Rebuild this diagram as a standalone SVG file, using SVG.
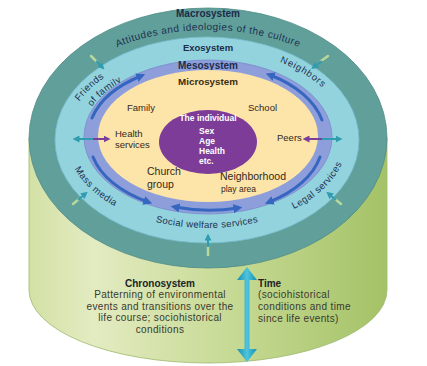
<svg xmlns="http://www.w3.org/2000/svg" width="427" height="366" viewBox="0 0 427 366">
<style>
text{font-family:"Liberation Sans",Arial,sans-serif}
.title{font-weight:bold;font-size:10px;fill:#1c2c4a;text-anchor:middle}
.ring{font-size:9.5px;fill:#1e3150;letter-spacing:0.5px}
.micro{font-size:9.5px;fill:#33291a}
.ind{font-size:8.5px;fill:#ffffff;font-weight:bold}
.chron{font-size:10px;fill:#3a3a30;letter-spacing:0.35px}
.blue{fill:none;stroke:#3566c0;stroke-width:3;stroke-linecap:round}
.small{stroke:#2f9cb0;stroke-width:2;fill:none}
.tail{stroke:#b9d79a;stroke-width:2.5;fill:none;stroke-linecap:round}
</style>
<defs>
<linearGradient id="cylG" x1="0" y1="0" x2="1" y2="0">
<stop offset="0" stop-color="#d3e1a6"/>
<stop offset="0.18" stop-color="#e3ebc1"/>
<stop offset="0.6" stop-color="#c4d890"/>
<stop offset="1" stop-color="#a4c267"/>
</linearGradient>
<linearGradient id="timeG" x1="0" y1="0" x2="1" y2="0">
<stop offset="0" stop-color="#1590b4"/>
<stop offset="0.5" stop-color="#4fc4dc"/>
<stop offset="1" stop-color="#1590b4"/>
</linearGradient>
<marker id="bh" viewBox="0 0 10 10" refX="5" refY="5" markerWidth="3" markerHeight="3" orient="auto-start-reverse">
<path d="M0,0 L10,5 L0,10 Z" fill="#3566c0"/>
</marker>
<marker id="th" viewBox="0 0 10 10" refX="5" refY="5" markerWidth="3.5" markerHeight="3.5" orient="auto-start-reverse">
<path d="M0,0 L10,5 L0,10 Z" fill="#2f9cb0"/>
</marker>
<marker id="ph" viewBox="0 0 10 10" refX="5" refY="5" markerWidth="3.5" markerHeight="3.5" orient="auto-start-reverse">
<path d="M0,0 L10,5 L0,10 Z" fill="#7a3f98"/>
</marker>
<path id="pMacro" d="M38,140 A170,110 0 0 1 378,140"/>
<path id="pExoUp" d="M66,140 A141,91 0 0 1 348,140"/>
<path id="pExoIn" d="M80,140 A127,79 0 0 1 334,140"/>
<path id="pExoLow" d="M67,140 A140,88 0 0 0 347,140"/>
</defs>
<rect width="427" height="366" fill="#ffffff"/>

<g id="cylinder">
<path d="M29,138 L29,290 A179,73 0 0 0 387,290 L387,138 Z" fill="url(#cylG)" stroke="#9cb96c" stroke-width="0.8"/>
</g>

<g id="macrosystem">
<ellipse cx="208" cy="138" rx="179" ry="130" fill="#619f9b" stroke="#4f8b87" stroke-width="0.8"/>
<text class="title" x="208" y="17">Macrosystem</text>
<text class="ring" style="font-size:10px"><textPath href="#pMacro" startOffset="50%" text-anchor="middle">Attitudes and ideologies of the culture</textPath></text>
</g>

<g id="exosystem">
<ellipse cx="207" cy="140" rx="152" ry="103" fill="#93d3de" stroke="#75bccb" stroke-width="0.8"/>
<text class="title" x="208" y="51" style="font-size:9.5px">Exosystem</text>
<text class="ring"><textPath href="#pExoUp" startOffset="16%" text-anchor="middle">Friends</textPath></text>
<text class="ring"><textPath href="#pExoIn" startOffset="17%" text-anchor="middle">of family</textPath></text>
<text class="ring" style="letter-spacing:0.8px"><textPath href="#pExoUp" startOffset="77%" text-anchor="middle">Neighbors</textPath></text>
<text class="ring"><textPath href="#pExoLow" startOffset="16%" text-anchor="middle">Mass media</textPath></text>
<text class="ring" style="letter-spacing:0.3px"><textPath href="#pExoLow" startOffset="50%" text-anchor="middle">Social welfare services</textPath></text>
<text class="ring"><textPath href="#pExoLow" startOffset="84%" text-anchor="middle">Legal services</textPath></text>
</g>

<g id="mesosystem">
<ellipse cx="208" cy="137" rx="124" ry="77" fill="#8e9edb" stroke="#7a8bcc" stroke-width="0.8"/>
<text class="title" x="208" y="69">Mesosystem</text>
</g>

<g id="microsystem">
<ellipse cx="208" cy="136" rx="110" ry="66" fill="#fde4a9"/>
<text class="title" x="208" y="85" style="fill:#3a2e14;font-size:9.8px">Microsystem</text>
<text class="micro" x="127" y="111">Family</text>
<text class="micro" x="248" y="111">School</text>
<text class="micro" x="115" y="137">Health</text>
<text class="micro" x="115" y="148">services</text>
<text class="micro" x="277" y="141">Peers</text>
<text class="micro" x="147" y="175" style="font-size:10.5px">Church</text>
<text class="micro" x="147" y="188" style="font-size:10.5px">group</text>
<text class="micro" x="220" y="180" style="font-size:10.5px">Neighborhood</text>
<text class="micro" x="221" y="192" style="font-size:8.5px">play area</text>
</g>

<g id="individual">
<ellipse cx="208" cy="142" rx="49" ry="32" fill="#7d3c98"/>
<text class="ind" x="208" y="121" text-anchor="middle">The individual</text>
<text class="ind" x="199" y="134">Sex</text>
<text class="ind" x="199" y="144">Age</text>
<text class="ind" x="199" y="154">Health</text>
<text class="ind" x="199" y="164">etc.</text>
</g>

<g id="connectors">
<path class="blue" d="M92,118 A117,71.5 0 0 1 141,76" marker-end="url(#bh)"/>
<path class="blue" d="M322,120 A117,71.5 0 0 0 270,75" marker-end="url(#bh)"/>
<path class="blue" d="M93,157 A117,71.5 0 0 0 148,202" marker-end="url(#bh)"/>
<path class="blue" d="M320,157 A117,71.5 0 0 1 269,202" marker-end="url(#bh)"/>
<path class="blue" d="M175,207 A117,71.5 0 0 0 238,208" marker-start="url(#bh)" marker-end="url(#bh)"/>
<line x1="76" y1="139" x2="93" y2="139" stroke="#2f9cb0" stroke-width="2" marker-start="url(#th)"/>
<line x1="93" y1="139" x2="107" y2="139" stroke="#7a3f98" stroke-width="2" marker-end="url(#ph)"/>
<line x1="306" y1="139" x2="322" y2="139" stroke="#7a3f98" stroke-width="2" marker-start="url(#ph)"/>
<line x1="322" y1="139" x2="339" y2="139" stroke="#2f9cb0" stroke-width="2" marker-end="url(#th)"/>
<line class="tail" x1="91" y1="56" x2="97" y2="62"/>
<line class="small" x1="96" y1="61" x2="102" y2="67" marker-end="url(#th)"/>
<line class="tail" x1="328" y1="56" x2="321" y2="61"/>
<line class="small" x1="322" y1="61" x2="314" y2="67" marker-end="url(#th)"/>
<line class="tail" x1="73" y1="204" x2="79" y2="199"/>
<line class="small" x1="78" y1="200" x2="85" y2="194" marker-end="url(#th)"/>
<line class="tail" x1="341" y1="204" x2="335" y2="199"/>
<line class="small" x1="336" y1="200" x2="329" y2="194" marker-end="url(#th)"/>
<line class="tail" x1="208" y1="255" x2="208" y2="246"/>
<line class="small" x1="208" y1="247" x2="208" y2="237" marker-end="url(#th)"/>
<path d="M247,267 L257,280 L249.5,280 L249.5,349 L257,349 L247,362 L237,349 L244.5,349 L244.5,280 L237,280 Z" fill="url(#timeG)"/>
</g>

<g id="chronosystem">
<text class="title" x="160" y="287" style="fill:#222222">Chronosystem</text>
<text class="chron" x="160" y="298" text-anchor="middle">Patterning of environmental</text>
<text class="chron" x="160" y="310" text-anchor="middle">events and transitions over the</text>
<text class="chron" x="160" y="321" text-anchor="middle">life course; sociohistorical</text>
<text class="chron" x="160" y="333" text-anchor="middle">conditions</text>
</g>

<g id="time">
<text x="258" y="287" style="font-weight:bold;font-size:10px;fill:#222222">Time</text>
<text class="chron" x="258" y="298">(sociohistorical</text>
<text class="chron" x="258" y="310">conditions and time</text>
<text class="chron" x="258" y="322">since life events)</text>
</g>
</svg>
